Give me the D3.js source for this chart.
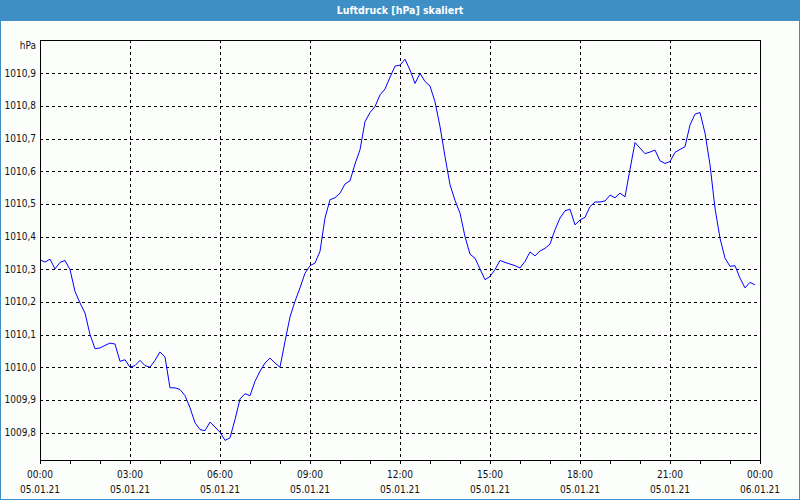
<!DOCTYPE html>
<html>
<head>
<meta charset="utf-8">
<script src="https://cdn.jsdelivr.net/npm/d3@7"></script>
<style>
  html, body { margin: 0; padding: 0; background: #fcfefc; }
  svg { display: block; }
  text { font-family: Tahoma, "DejaVu Sans Condensed", "DejaVu Sans", sans-serif; font-size: 10px; fill: #111; }
</style>
</head>
<body>
<svg id="chart" width="800" height="500"></svg>
<script>
// Luftdruck, 10-Minuten-Werte vom 05.01.21 00:00 bis 23:50
const startTime = "2021-01-05T00:00:00Z";
const endTime = "2021-01-06T00:00:00Z";
const stepMinutes = 10;
const pressure = [
  1010.329, 1010.322, 1010.331, 1010.301, 1010.321, 1010.327, 1010.299, 1010.232, 1010.197, 1010.166,
  1010.100, 1010.057, 1010.059, 1010.067, 1010.074, 1010.071, 1010.018, 1010.023, 1010.000, 1010.005,
  1010.021, 1010.005, 1010.000, 1010.021, 1010.047, 1010.031, 1009.937, 1009.937, 1009.932, 1009.913,
  1009.876, 1009.830, 1009.809, 1009.806, 1009.832, 1009.817, 1009.801, 1009.776, 1009.784, 1009.840,
  1009.903, 1009.919, 1009.913, 1009.957, 1009.988, 1010.013, 1010.028, 1010.013, 1010.000, 1010.079,
  1010.154, 1010.202, 1010.243, 1010.288, 1010.311, 1010.319, 1010.355, 1010.457, 1010.513, 1010.519,
  1010.533, 1010.561, 1010.571, 1010.622, 1010.666, 1010.752, 1010.780, 1010.798, 1010.834, 1010.852,
  1010.888, 1010.922, 1010.925, 1010.943, 1010.910, 1010.869, 1010.900, 1010.875, 1010.861, 1010.813,
  1010.737, 1010.645, 1010.559, 1010.511, 1010.472, 1010.400, 1010.346, 1010.334, 1010.301, 1010.268,
  1010.278, 1010.299, 1010.327, 1010.321, 1010.316, 1010.311, 1010.304, 1010.324, 1010.353, 1010.341,
  1010.356, 1010.364, 1010.377, 1010.421, 1010.457, 1010.479, 1010.484, 1010.436, 1010.451, 1010.459,
  1010.492, 1010.506, 1010.506, 1010.509, 1010.527, 1010.519, 1010.533, 1010.522, 1010.606, 1010.688,
  1010.671, 1010.654, 1010.659, 1010.665, 1010.632, 1010.624, 1010.630, 1010.658, 1010.667, 1010.675,
  1010.742, 1010.775, 1010.780, 1010.717, 1010.620, 1010.487, 1010.395, 1010.334, 1010.309, 1010.311,
  1010.273, 1010.243, 1010.260, 1010.252
];
const yTicks = [1009.8, 1009.9, 1010.0, 1010.1, 1010.2, 1010.3, 1010.4, 1010.5, 1010.6, 1010.7, 1010.8, 1010.9];
const yDomain = [1009.716, 1011.002];
const title = "Luftdruck [hPa] skaliert";
const unit = "hPa";

const W = 800, H = 500;
const plot = { left: 40, top: 40, right: 760, bottom: 460 };

const svg = d3.select("#chart");
const t0 = new Date(startTime);
const data = pressure.map((v, i) => ({ t: new Date(t0.getTime() + i * stepMinutes * 60000), v: v }));

const x = d3.scaleUtc().domain([t0, new Date(endTime)]).range([plot.left, plot.right]);
const y = d3.scaleLinear().domain(yDomain).range([plot.bottom, plot.top]);

const de = d3.formatLocale({ decimal: ",", thousands: ".", grouping: [3], currency: ["", " €"] });
const fmtY = de.format(".1f");
const fmtTime = d3.utcFormat("%H:%M");
const fmtDate = d3.utcFormat("%d.%m.%y");

// Titelleiste und Rahmen
svg.append("rect").attr("x", 0.5).attr("y", 0.5).attr("width", W - 1).attr("height", H - 1)
  .attr("fill", "#fcfefc").attr("stroke", "#3d8fc6");
svg.append("rect").attr("x", 0).attr("y", 0).attr("width", W).attr("height", 21).attr("fill", "#3d8fc6");
svg.append("text").attr("x", W / 2).attr("y", 14).attr("text-anchor", "middle")
  .style("fill", "#fff").style("font-weight", "bold").style("font-size", "10.5px").text(title);

// Gitter
const majorTicks = x.ticks(d3.utcHour.every(3));
const minorTicks = x.ticks(d3.utcHour.every(1));
const grid = svg.append("g").attr("stroke", "#000").attr("stroke-dasharray", "3,3")
  .attr("shape-rendering", "crispEdges");
grid.selectAll(".gy").data(yTicks).enter().append("line")
  .attr("x1", plot.left).attr("x2", plot.right)
  .attr("y1", d => Math.round(y(d)) + 0.5).attr("y2", d => Math.round(y(d)) + 0.5);
grid.selectAll(".gx").data(majorTicks.slice(1, -1)).enter().append("line")
  .attr("x1", d => Math.round(x(d)) + 0.5).attr("x2", d => Math.round(x(d)) + 0.5)
  .attr("y1", plot.top).attr("y2", plot.bottom);

// Linie
const line = d3.line().x(d => x(d.t)).y(d => y(d.v));
svg.append("path").datum(data).attr("d", line)
  .attr("fill", "none").attr("stroke", "#0000ff").attr("stroke-width", 1);

// Plotrahmen
svg.append("rect").attr("x", plot.left + 0.5).attr("y", plot.top + 0.5)
  .attr("width", plot.right - plot.left).attr("height", plot.bottom - plot.top)
  .attr("fill", "none").attr("stroke", "#000").attr("shape-rendering", "crispEdges");

// y-Achse
svg.append("g").selectAll("text").data(yTicks).enter().append("text")
  .attr("x", plot.left - 4).attr("y", d => y(d)).attr("dy", "0.35em")
  .attr("text-anchor", "end").text(d => fmtY(d));
svg.append("text").attr("x", plot.left - 4).attr("y", plot.top + 5).attr("dy", "0.35em")
  .attr("text-anchor", "end").text(unit);

// x-Achse
svg.append("g").attr("stroke", "#000").attr("shape-rendering", "crispEdges")
  .selectAll("line").data(minorTicks).enter().append("line")
  .attr("x1", d => Math.round(x(d)) + 0.5).attr("x2", d => Math.round(x(d)) + 0.5)
  .attr("y1", plot.bottom).attr("y2", plot.bottom + 4);
const xl = svg.append("g").selectAll("g").data(majorTicks).enter().append("g")
  .attr("transform", d => `translate(${x(d)},0)`);
xl.append("text").attr("y", 474).attr("dy", "0.35em").attr("text-anchor", "middle").text(d => fmtTime(d));
xl.append("text").attr("y", 489).attr("dy", "0.35em").attr("text-anchor", "middle").text(d => fmtDate(d));
</script>
</body>
</html>
